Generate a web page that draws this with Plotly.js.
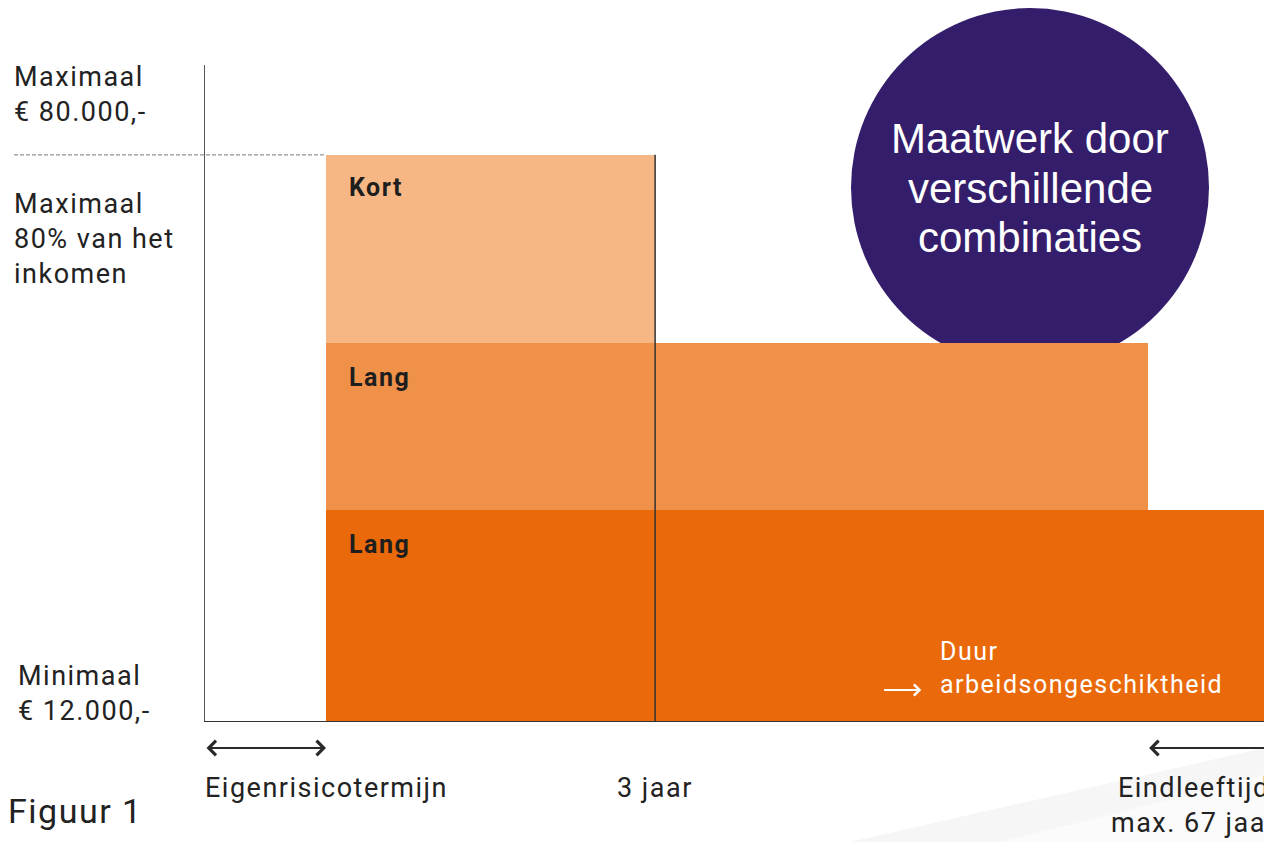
<!DOCTYPE html>
<html>
<head>
<meta charset="utf-8">
<script src="https://cdn.plot.ly/plotly-3.0.1.min.js"></script>
<style>
  html, body { margin: 0; padding: 0; background: #ffffff; }
  #chart { width: 1264px; height: 842px; }
  text.annotation-text[style*="Roboto"] { letter-spacing: 1.5px; }
</style>
</head>
<body>
<div id="chart"></div>
<script>
// ---------------- data ----------------
const blockLabels = ['Kort', 'Lang', 'Lang'];
const blockStart  = [1, 1, 1];
const blockEnd    = [3.72, 7.79, 9.5];
const blockLow    = [57.6, 32.2, 0];
const blockHigh   = [86.3, 57.6, 32.2];
const blockColors = ['#F6B785', '#F0914A', '#EA6A0B'];

const xLabelVals  = [1, 3.72, 8.17];
const xLabelText  = ['Eigenrisicotermijn', '3 jaar', 'Eindleeftijd<br>max. 67 jaar'];

const yLabelText  = ['Maximaal<br>€ 80.000,-', 'Maximaal<br>80% van het<br>inkomen', 'Minimaal<br>€ 12.000,-'];

const spanEigenRisico = [0, 1];
const spanEindleeftijd = [7.79, 8.9];
const durationArrow = [5.60, 5.92];
const durationText = 'Duur<br>arbeidsongeschiktheid';
const circleLines = ['Maatwerk door', 'verschillende', 'combinaties'];
const figureLabel = 'Figuur 1';

// ---------------- layout helpers ----------------
const L = 205, T = 65, W = 1059, H = 656;
const xRange = [0, W / 121];
const yRange = [0, 100];
const xp = px => (px - L) / W;             // pixel -> paper x
const yp = py => (T + H - py) / H;         // pixel -> paper y
const xPaperFromData = v => (v - xRange[0]) / (xRange[1] - xRange[0]);
const yPaperFromData = v => (v - yRange[0]) / (yRange[1] - yRange[0]);

const ROBOTO = 'Roboto';
const ARIAL = 'Liberation Sans, Arial, sans-serif';

function label(text, x, xref, baseline, size, opts) {
  opts = opts || {};
  const asc = opts.family === ARIAL ? 0.905 : 0.928;
  const a = {
    text: text,
    xref: xref, x: x,
    yref: 'paper', y: yp(baseline - 2 - asc * size),
    xanchor: opts.xanchor || 'left', yanchor: 'top',
    align: opts.align || 'left',
    showarrow: false,
    font: { family: opts.family || ROBOTO, size: size, color: opts.color || '#222222', weight: opts.weight || 'normal' }
  };
  if (opts.xanchor === 'left' || !opts.xanchor) { a.xshift = -2; }
  return a;
}

// ---------------- traces ----------------
const bars = {
  type: 'bar',
  x: blockStart.map((s, i) => (s + blockEnd[i]) / 2),
  width: blockStart.map((s, i) => blockEnd[i] - s),
  base: blockLow,
  y: blockHigh.map((h, i) => h - blockLow[i]),
  marker: { color: blockColors, line: { width: 0 } },
  hoverinfo: 'skip',
  showlegend: false
};

// ---------------- annotations ----------------
const annotations = [];

// left labels
annotations.push(label(yLabelText[0], xp(14), 'paper', 86, 27));
annotations.push(label(yLabelText[1], xp(14), 'paper', 213, 27));
annotations.push(label(yLabelText[2], xp(18), 'paper', 685, 27));
annotations.push(label(figureLabel, xp(8), 'paper', 823, 34));

// x labels
xLabelText.forEach((t, i) => {
  annotations.push(label(t, xLabelVals[i], 'x', 797, 27, { xanchor: 'center', align: 'center' }));
});

// block labels
blockLabels.forEach((t, i) => {
  annotations.push({
    text: t, xref: 'x', yref: 'y', x: blockStart[i], y: blockHigh[i],
    xanchor: 'left', yanchor: 'top', xshift: 21, yshift: i === 0 ? -16 : -18,
    showarrow: false,
    font: { family: ROBOTO, size: 25, color: '#1e1e1e', weight: 'bold' }
  });
});

// duration text (white)
annotations.push(label(durationText, durationArrow[1] + (940 - 921) / 121, 'x', 660, 25, { color: '#ffffff' }));

// duration arrow
annotations.push({
  xref: 'x', yref: 'paper', x: durationArrow[1], y: yp(690),
  axref: 'x', ayref: 'pixel', ax: durationArrow[0], ay: 0,
  text: '', showarrow: true, arrowhead: 4, arrowsize: 1.1, arrowwidth: 2,
  arrowcolor: '#ffffff', standoff: 0, startstandoff: 0
});

// span arrows below the axis
[spanEigenRisico, spanEindleeftijd].forEach(sp => {
  annotations.push({
    xref: 'x', yref: 'paper', x: sp[1], y: yp(748),
    axref: 'x', ayref: 'pixel', ax: sp[0], ay: 0,
    text: '', showarrow: true, arrowside: 'end+start',
    arrowhead: 4, startarrowhead: 4, arrowsize: 1.4, startarrowsize: 1.4, arrowwidth: 2,
    arrowcolor: '#2a2a2a', standoff: 0, startstandoff: 0
  });
});

// circle text
const circleCx = 1030;
[153, 203, 252].forEach((b, i) => {
  annotations.push(label(circleLines[i], xp(circleCx), 'paper', b, 42,
    { family: ARIAL, color: '#ffffff', xanchor: 'center', align: 'center' }));
});

// ---------------- shapes ----------------
const shapes = [
  // soft grey swoosh bottom right (two layers for a faint gradient)
  {
    type: 'path', xref: 'paper', yref: 'paper', layer: 'below',
    path: `M ${xp(850)},${yp(842)} Q ${xp(1070)},${yp(792)} ${xp(1264)},${yp(748)} L ${xp(1264)},${yp(842)} Z`,
    fillcolor: '#f6f6f6', line: { width: 0 }, opacity: 1
  },
  {
    type: 'path', xref: 'paper', yref: 'paper', layer: 'below',
    path: `M ${xp(1000)},${yp(842)} Q ${xp(1140)},${yp(808)} ${xp(1264)},${yp(775)} L ${xp(1264)},${yp(842)} Z`,
    fillcolor: '#fbfbfb', line: { width: 0 }, opacity: 1
  },
  // purple circle
  {
    type: 'circle', xref: 'paper', yref: 'paper', layer: 'below',
    x0: xp(851), x1: xp(1209), y0: yp(367), y1: yp(8),
    fillcolor: '#341E6B', line: { width: 0 }
  },
  // dashed maximum line
  {
    type: 'line', xref: 'paper', yref: 'paper', layer: 'above',
    x0: xp(14), x1: xPaperFromData(blockStart[0]),
    y0: yPaperFromData(blockHigh[0]), y1: yPaperFromData(blockHigh[0]),
    line: { color: '#777777', width: 1, dash: '4px,2px' }
  },
  // 3 jaar divider
  {
    type: 'line', xref: 'x', yref: 'y', layer: 'above',
    x0: xLabelVals[1], x1: xLabelVals[1], y0: 0, y1: blockHigh[0],
    line: { color: '#333333', width: 1.5 }
  }
];

const layout = {
  width: 1264, height: 842,
  margin: { l: L, r: 1264 - L - W, t: T, b: 842 - T - H, pad: 0 },
  paper_bgcolor: 'rgba(0,0,0,0)',
  plot_bgcolor: 'rgba(0,0,0,0)',
  barmode: 'overlay',
  bargap: 0,
  showlegend: false,
  xaxis: {
    range: xRange, showgrid: false, zeroline: false, showticklabels: false, ticks: '',
    showline: true, linecolor: '#333333', linewidth: 1, fixedrange: true
  },
  yaxis: {
    range: yRange, showgrid: false, zeroline: false, showticklabels: false, ticks: '',
    showline: true, linecolor: '#555555', linewidth: 1, fixedrange: true
  },
  shapes: shapes,
  annotations: annotations
};

Plotly.newPlot('chart', [bars], layout, { displayModeBar: false, staticPlot: true });
</script>
</body>
</html>
